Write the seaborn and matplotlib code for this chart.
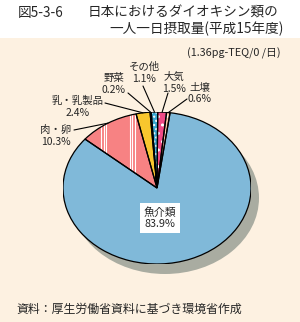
import matplotlib
matplotlib.use('Agg')
import matplotlib.pyplot as plt
import seaborn as sns
import numpy as np
from matplotlib.patches import Wedge, Ellipse, Rectangle

sns.set_theme(style='white')
plt.rcParams['font.family'] = ['Noto Sans CJK JP', 'DejaVu Sans']

# ---- data ----
categories = ['土壌', '大気', 'その他', '野菜', '乳・乳製品', '肉・卵', '魚介類']
shares = [0.6, 1.5, 1.1, 0.2, 2.4, 10.3, 83.9]
colors = ['#f9c1a1', '#ef4a86', '#38a6cf', '#111111', '#f8c62e', '#f78283', '#80b9d9']
title_1a = '図5-3-6'
title_1b = '日本におけるダイオキシン類の'
title_2 = '一人一日摂取量(平成15年度)'
unit_text = '(1.36pg-TEQ/0 /日)'
source_text = '資料：厚生労働省資料に基づき環境省作成'

W, H = 300, 322
fig = plt.figure(figsize=(W / 100, H / 100), dpi=100, facecolor='white')
fig.patches.append(Rectangle((0, 0), 1, 1 - 38 / H, transform=fig.transFigure,
                             facecolor='#fdf1e1', edgecolor='none', zorder=-5))

def fx(px):
    return px / W

def fy(py):
    return 1 - py / H

# titles
fig.text(fx(18), fy(13), title_1a, fontsize=9.8, ha='left', va='center')
fig.text(fx(88), fy(13), title_1b, fontsize=9.8, ha='left', va='center')
fig.text(fx(284), fy(29), title_2, fontsize=9.8, ha='right', va='center')
fig.text(fx(281), fy(53), unit_text, fontsize=7.8, ha='right', va='center')
fig.text(fx(16), fy(309), source_text, fontsize=8.6, ha='left', va='center')

# pie axes (elliptical)
cx, cy, rx, ry = 157, 188, 94, 76
ax = fig.add_axes([fx(cx - rx), fy(cy + ry), 2 * rx / W, 2 * ry / H])
ax.set_facecolor('none')
ax.set_zorder(1)

wedges, _ = ax.pie(shares, colors=colors, startangle=82, counterclock=True,
                   radius=1, wedgeprops=dict(linewidth=0, zorder=1))
ax.set_aspect('auto')
ax.set_xlim(-1, 1)
ax.set_ylim(-1, 1)
ax.axis('off')

# shadow
ax.add_patch(Ellipse((8 / rx, -10 / ry), 2, 2, facecolor='#a9aca1',
                     edgecolor='none', zorder=0, clip_on=False))

# texture overlays
hatches = {2: '....', 1: '..', 0: '..'}
for i, h in hatches.items():
    w = wedges[i]
    ov = Wedge((0, 0), 1, w.theta1, w.theta2, facecolor='none',
               edgecolor='white', hatch=h, linewidth=0, zorder=2)
    ax.add_patch(ov)
stripes = ax.vlines([-0.596, -0.569, -0.543, -0.287, -0.261, -0.234], -1, 1,
                    colors='white', linewidth=0.8, zorder=2)
stripes.set_clip_path(wedges[5])

# outlines
for w in wedges:
    ax.add_patch(Wedge((0, 0), 1, w.theta1, w.theta2, facecolor='none',
                       edgecolor='black', linewidth=0.9, zorder=3))

# outside labels (name center x, name y, leader start x, leader start y)
label_layout = {
    '肉・卵': (56, 130, 74, 130),
    '乳・乳製品': (78, 101, 105, 103),
    '野菜': (114, 78, 128, 93),
    'その他': (144, 67, 143, 86),
    '大気': (174, 77, 168, 93),
    '土壌': (200, 87, 187, 99),
}
for w, name, val in zip(wedges, categories, shares):
    if name not in label_layout:
        continue
    lx, ly, sx, sy = label_layout[name]
    fig.text(fx(lx), fy(ly), name, fontsize=7.5, ha='center', va='center')
    fig.text(fx(lx), fy(ly + 12), f'{val}%', fontsize=7.5, ha='center', va='center')
    mid = np.deg2rad((w.theta1 + w.theta2) / 2)
    ax.annotate('', xy=(np.cos(mid), np.sin(mid)), xycoords='data',
                xytext=(sx, H - sy), textcoords='figure pixels',
                arrowprops=dict(arrowstyle='-', color='black', lw=0.8,
                                shrinkA=0, shrinkB=0), zorder=4,
                annotation_clip=False)

# inside label
fig.text(fx(160), fy(218), f'{categories[-1]}\n{shares[-1]}%', fontsize=7.8,
         ha='center', va='center', linespacing=1.15, zorder=10,
         bbox=dict(boxstyle='square,pad=0.35', facecolor='white', edgecolor='none'))

fig.savefig('out.png', dpi=100, facecolor=fig.get_facecolor())
